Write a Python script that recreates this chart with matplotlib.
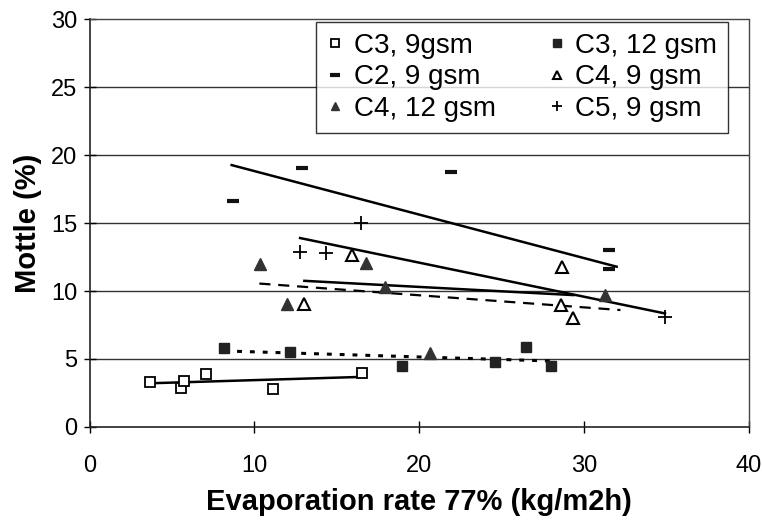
import matplotlib
matplotlib.use("Agg")
import matplotlib.pyplot as plt
import numpy as np

plt.rcParams['font.family'] = ['Liberation Sans', 'DejaVu Sans']

# ---- data ----
c3_9_x = [3.67, 5.53, 5.75, 7.07, 11.11, 16.54]
c3_9_y = [3.33, 2.88, 3.38, 3.89, 2.77, 3.99]

c3_12_x = [8.17, 12.16, 18.97, 24.59, 26.45, 27.97]
c3_12_y = [5.83, 5.49, 4.48, 4.78, 5.86, 4.50]

c2_9_x = [8.68, 12.90, 21.90, 31.52, 31.52]
c2_9_y = [16.65, 19.07, 18.78, 13.02, 11.60]

c4_9_x = [13.03, 15.90, 28.64, 28.57, 29.34]
c4_9_y = [9.02, 12.65, 11.79, 8.97, 7.99]

c4_12_x = [10.35, 16.77, 11.96, 17.92, 20.65, 31.26]
c4_12_y = [11.99, 12.04, 9.02, 10.32, 5.42, 9.71]

c5_9_x = [12.77, 14.34, 16.46, 34.90]
c5_9_y = [12.89, 12.82, 14.98, 8.06]

# trend lines (start/end)
trend_c3_9 = ([3.67, 16.54], [3.21, 3.68])
trend_c3_12 = ([8.17, 27.97], [5.59, 4.85])
trend_c2_9 = ([8.62, 31.97], [19.27, 11.79])
trend_c4_9 = ([13.03, 29.34], [10.75, 9.70])
trend_c4_12 = ([10.30, 32.20], [10.55, 8.60])
trend_c5_9 = ([12.77, 34.90], [13.90, 8.35])

labels = ["C3, 9gsm", "C3, 12 gsm", "C2, 9 gsm", "C4, 9 gsm", "C4, 12 gsm", "C5, 9 gsm"]
x_ticks = [0, 10, 20, 30, 40]
y_ticks = [0, 5, 10, 15, 20, 25, 30]

fig = plt.figure(figsize=(7.62, 5.32), dpi=100)
ax = fig.add_axes([0.1175, 0.1976, 0.8655, 0.7661])

for yv in y_ticks[1:-1]:
    ax.axhline(yv, color='#333333', lw=1.0, zorder=1)

# trend lines
ax.plot(*trend_c3_9, color='black', lw=1.8, zorder=2)
ax.plot(*trend_c3_12, color='black', lw=2.2, linestyle=(0, (1.6, 2.6)), zorder=2)
ax.plot(*trend_c2_9, color='black', lw=1.8, zorder=2)
ax.plot(*trend_c4_9, color='black', lw=1.8, zorder=2)
ax.plot(*trend_c4_12, color='black', lw=1.6, linestyle=(0, (5, 3.5)), zorder=2)
ax.plot(*trend_c5_9, color='black', lw=1.8, zorder=2)

h1, = ax.plot(c3_9_x, c3_9_y, 's', ms=7.5, mfc='white', mec='black', mew=1.3, ls='none', zorder=3)
h2, = ax.plot(c3_12_x, c3_12_y, 's', ms=7.5, mfc='#222222', mec='#222222', mew=1.0, ls='none', zorder=3)
h3, = ax.plot(c2_9_x, c2_9_y, '_', ms=9, mec='#111111', mew=3.0, ls='none', zorder=3)
h4, = ax.plot(c4_9_x, c4_9_y, '^', ms=8.5, mfc='white', mec='black', mew=1.5, ls='none', zorder=3)
h5, = ax.plot(c4_12_x, c4_12_y, '^', ms=8.5, mfc='#333333', mec='#333333', mew=1.0, ls='none', zorder=3)
h6, = ax.plot(c5_9_x, c5_9_y, '+', ms=10, mec='black', mew=1.3, ls='none', zorder=3)

ax.set_xlim(0, 40)
ax.set_ylim(0, 30)
ax.set_xticks(x_ticks)
ax.set_yticks(y_ticks)
ax.tick_params(axis='both', direction='inout', length=8, width=1, labelsize=17, colors='black')
ax.tick_params(axis='x', pad=16)
ax.tick_params(axis='y', pad=5)

for s in ['top', 'right']:
    ax.spines[s].set_linestyle((0, (1, 1)))
    ax.spines[s].set_color('#444444')
    ax.spines[s].set_linewidth(1.0)
for s in ['left', 'bottom']:
    ax.spines[s].set_color('#222222')
    ax.spines[s].set_linewidth(1.2)

ax.set_xlabel("Evaporation rate 77% (kg/m2h)", fontsize=21, fontweight='bold', labelpad=8)
ax.set_ylabel("Mottle (%)", fontsize=21, fontweight='bold', labelpad=6)

handles = [h1, h3, h5, h2, h4, h6]
leg_labels = [labels[0], labels[2], labels[4], labels[1], labels[3], labels[5]]
leg = ax.legend(handles, leg_labels, ncol=2, loc='upper left', bbox_to_anchor=(0.3434, 0.994),
                fontsize=20, frameon=True, fancybox=False, edgecolor='black',
                handlelength=0.6, handletextpad=0.35, columnspacing=1.9, labelspacing=0.2,
                borderpad=0.4, markerscale=0.75, borderaxespad=0)
leg.get_frame().set_linewidth(1.0)

fig.savefig("out.png", dpi=100, facecolor='white')
